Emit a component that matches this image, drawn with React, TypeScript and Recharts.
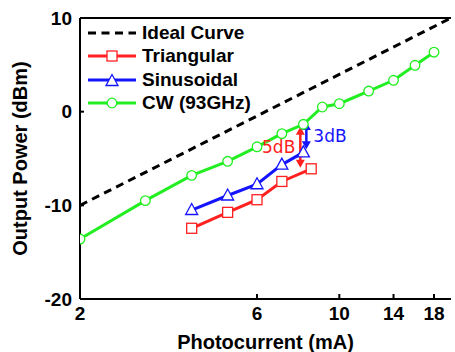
import React from "react"
import {
  LineChart,
  Line,
  XAxis,
  YAxis,
  ReferenceLine,
  Legend,
} from "recharts"

// x: photocurrent (mA), y: output power (dBm)
const idealCurrent = [2, 20]
const idealPower = [-10, 10]

const triCurrent = [4, 5, 6, 7, 8.4]
const triPower = [-12.45, -10.75, -9.4, -7.45, -6.1]

const sinCurrent = [4, 5, 6, 7, 8]
const sinPower = [-10.5, -8.95, -7.75, -5.65, -4.35]

const cwCurrent = [2, 3, 4, 5, 6, 7, 8, 9, 10, 12, 14, 16, 18]
const cwPower = [-13.6, -9.5, -6.8, -5.3, -3.75, -2.35, -1.35, 0.5, 0.85, 2.2, 3.35, 4.95, 6.35]

const xTicks = [2, 6, 10, 14, 18]
const yTicks = [-20, -10, 0, 10]

// annotation arrows: [current, top dBm, bottom dBm]
const arrow5dB = [7.85, -1.6, -6.0]
const arrow3dB = [8.15, -1.1, -4.0]

const RED = "#ff2020"
const BLUE = "#1414ff"
const GREEN = "#22ee22"

const toPoints = (xs: number[], ys: number[]) => xs.map((x, i) => ({ x, y: ys[i] }))

const idealData = toPoints(idealCurrent, idealPower)
const triData = toPoints(triCurrent, triPower)
const sinData = toPoints(sinCurrent, sinPower)
const cwData = toPoints(cwCurrent, cwPower)

const FONT = "'Liberation Sans', Arial, sans-serif"

const SquareDot = (props: any) => {
  const { cx, cy } = props
  if (cx == null || cy == null) return null
  return <rect x={cx - 5} y={cy - 5} width={10} height={10} fill="#fff" stroke={RED} strokeWidth={1.3} />
}

const TriangleDot = (props: any) => {
  const { cx, cy } = props
  if (cx == null || cy == null) return null
  return (
    <polygon
      points={`${cx},${cy - 6.5} ${cx - 6},${cy + 4.5} ${cx + 6},${cy + 4.5}`}
      fill="#fff"
      stroke={BLUE}
      strokeWidth={1.3}
    />
  )
}

const CircleDot = (props: any) => {
  const { cx, cy } = props
  if (cx == null || cy == null) return null
  return <circle cx={cx} cy={cy} r={4.8} fill="#fff" stroke={GREEN} strokeWidth={1.3} />
}

// vertical double-headed arrow with a text on one side
const arrowShape = (color: string, text: string, side: "left" | "right") => (props: any) => {
  const { x1, y1, x2, y2 } = props
  const top = Math.min(y1, y2)
  const bot = Math.max(y1, y2)
  const x = x1
  const tx = side === "left" ? x - 5 : x + 7
  return (
    <g>
      <line x1={x} y1={top + 5} x2={x2} y2={bot - 5} stroke={color} strokeWidth={2.5} />
      <polygon points={`${x},${top} ${x - 4.5},${top + 8} ${x + 4.5},${top + 8}`} fill={color} />
      <polygon points={`${x},${bot} ${x - 4.5},${bot - 8} ${x + 4.5},${bot - 8}`} fill={color} />
      <text
        x={tx}
        y={(top + bot) / 2 + 6}
        fill={color}
        fontSize={17}
        fontFamily="'DejaVu Sans', sans-serif"
        textAnchor={side === "left" ? "end" : "start"}
      >
        {text}
      </text>
    </g>
  )
}

const legendItems = [
  { name: "Ideal Curve", color: "#000", marker: "none", dash: true },
  { name: "Triangular", color: RED, marker: "square", dash: false },
  { name: "Sinusoidal", color: BLUE, marker: "triangle", dash: false },
  { name: "CW (93GHz)", color: GREEN, marker: "circle", dash: false },
]

const LegendContent = () => (
  <div style={{ fontFamily: FONT, fontWeight: "bold", fontSize: 19 }}>
    {legendItems.map((it) => (
      <div key={it.name} style={{ display: "flex", alignItems: "center", height: 23.5 }}>
        <svg width={54} height={20} style={{ display: "block" }}>
          <line
            x1={0}
            y1={10}
            x2={48}
            y2={10}
            stroke={it.color}
            strokeWidth={3}
            strokeDasharray={it.dash ? "8 5.5" : undefined}
          />
          {it.marker === "square" && <SquareDot cx={24} cy={10} />}
          {it.marker === "triangle" && <TriangleDot cx={24} cy={11} />}
          {it.marker === "circle" && <CircleDot cx={24} cy={10} />}
        </svg>
        <span style={{ lineHeight: "20px", whiteSpace: "nowrap" }}>{it.name}</span>
      </div>
    ))}
  </div>
)

const tickStyle = { fontFamily: FONT, fontWeight: "bold", fontSize: 19, fill: "#000" }

export default function App() {
  return (
    <div style={{ position: "absolute", left: 0, top: 0, width: 455, height: 352, overflow: "hidden", background: "#fff" }}>
      <LineChart width={455} height={352} margin={{ top: 18, right: 4, bottom: 0, left: 0 }}>
        <XAxis
          type="number"
          dataKey="x"
          scale="log"
          domain={[2, 20]}
          ticks={xTicks}
          allowDataOverflow
          height={53}
          stroke="#000"
          strokeWidth={2}
          tickSize={-5}
          tickMargin={13}
          tick={tickStyle}
          label={{
            value: "Photocurrent (mA)",
            position: "center",
            dy: 16,
            style: { fontFamily: FONT, fontWeight: "bold", fontSize: 20, fill: "#000" },
          }}
        />
        <YAxis
          type="number"
          dataKey="y"
          domain={[-20, 10]}
          ticks={yTicks}
          allowDataOverflow
          width={80}
          stroke="#000"
          strokeWidth={2}
          tickSize={-4}
          tickMargin={12}
          tick={tickStyle}
          label={{
            value: "Output Power (dBm)",
            angle: -90,
            position: "center",
            dx: -20,
            style: { fontFamily: FONT, fontWeight: "bold", fontSize: 20, fill: "#000", textAnchor: "middle" },
          }}
        />
        <ReferenceLine y={10} stroke="#000" strokeWidth={2} />
        <Legend
          layout="vertical"
          align="center"
          verticalAlign="middle"
          content={<LegendContent />}
          wrapperStyle={{ left: 88, top: 21, width: 200 }}
        />
        <Line
          data={idealData}
          dataKey="y"
          name="Ideal Curve"
          stroke="#000"
          strokeWidth={3}
          strokeDasharray="8 5.5"
          dot={false}
          isAnimationActive={false}
        />
        <Line
          data={cwData}
          dataKey="y"
          name="CW (93GHz)"
          stroke={GREEN}
          strokeWidth={3}
          dot={<CircleDot />}
          isAnimationActive={false}
        />
        <Line
          data={sinData}
          dataKey="y"
          name="Sinusoidal"
          stroke={BLUE}
          strokeWidth={3}
          dot={<TriangleDot />}
          isAnimationActive={false}
        />
        <Line
          data={triData}
          dataKey="y"
          name="Triangular"
          stroke={RED}
          strokeWidth={3}
          dot={<SquareDot />}
          isAnimationActive={false}
        />
        <ReferenceLine
          segment={[
            { x: arrow5dB[0], y: arrow5dB[1] },
            { x: arrow5dB[0], y: arrow5dB[2] },
          ]}
          shape={arrowShape(RED, "5dB", "left")}
        />
        <ReferenceLine
          segment={[
            { x: arrow3dB[0], y: arrow3dB[1] },
            { x: arrow3dB[0], y: arrow3dB[2] },
          ]}
          shape={arrowShape(BLUE, "3dB", "right")}
        />
      </LineChart>
    </div>
  )
}
